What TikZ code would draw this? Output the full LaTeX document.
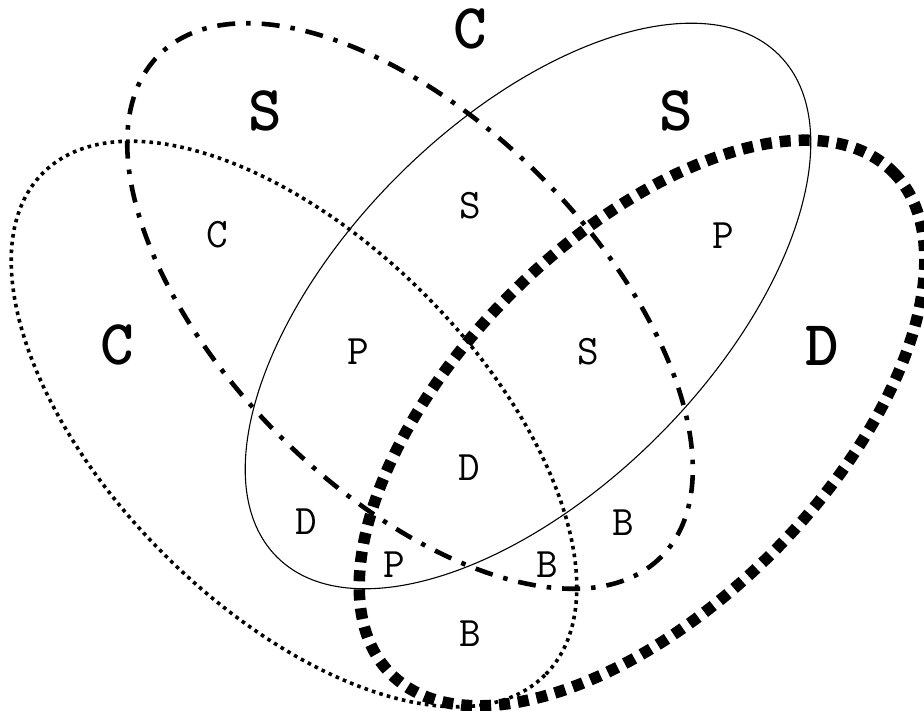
\documentclass[tikz,border=0pt]{standalone}
\usepackage{fontspec}
\newfontfamily\bigtt{lmmonolt10-bold.otf}
\begin{document}
\begin{tikzpicture}[x=1pt,y=-1pt,line join=round,
  big/.style={inner sep=0pt,font=\bigtt\fontsize{64}{64}\selectfont},
  small/.style={inner sep=0pt,font=\ttfamily\fontsize{42}{42}\selectfont}]
	\useasboundingbox (0,0) rectangle (924,711);
	% centres of the four sets
	\coordinate (C) at (294,424);
	\coordinate (S) at (410,306);
	\coordinate (P) at (528,306);
	\coordinate (D) at (642,423);
	% the sets
	\draw[line width=3.6pt,dash pattern=on 3.6pt off 4.2pt,rotate around={-45:(C)}]
		(C) ellipse [x radius=355,y radius=184];
	\draw[line width=4.6pt,dash pattern=on 18pt off 11pt on 4.5pt off 11pt,rotate around={-45:(S)}]
		(S) ellipse [x radius=355,y radius=184];
	\draw[line width=1.1pt,rotate around={45:(P)}]
		(P) ellipse [x radius=355,y radius=184];
	\draw[line width=11.5pt,dash pattern=on 11pt off 8pt,rotate around={45:(D)}]
		(D) ellipse [x radius=355,y radius=184];
	% outer labels
	\node[big] (cTop) at (470,29) {C};
	\node[big] (sLeft) at (265,111) {S};
	\node[big] (sRight) at (676,111) {S};
	\node[big] (cLeft) at (117,345) {C};
	\node[big] (dRight) at (822,346) {D};
	% inner labels
	\node[small] (c1) at (217,235) {C};
	\node[small] (s1) at (470,206) {S};
	\node[small] (p1) at (723,236) {P};
	\node[small] (p2) at (358,352) {P};
	\node[small] (s2) at (588,352) {S};
	\node[small] (d1) at (469,468) {D};
	\node[small] (d2) at (306,522) {D};
	\node[small] (b1) at (623,523) {B};
	\node[small] (p3) at (394,565) {P};
	\node[small] (b2) at (547,565) {B};
	\node[small] (b3) at (470,634) {B};
\end{tikzpicture}
\end{document}
